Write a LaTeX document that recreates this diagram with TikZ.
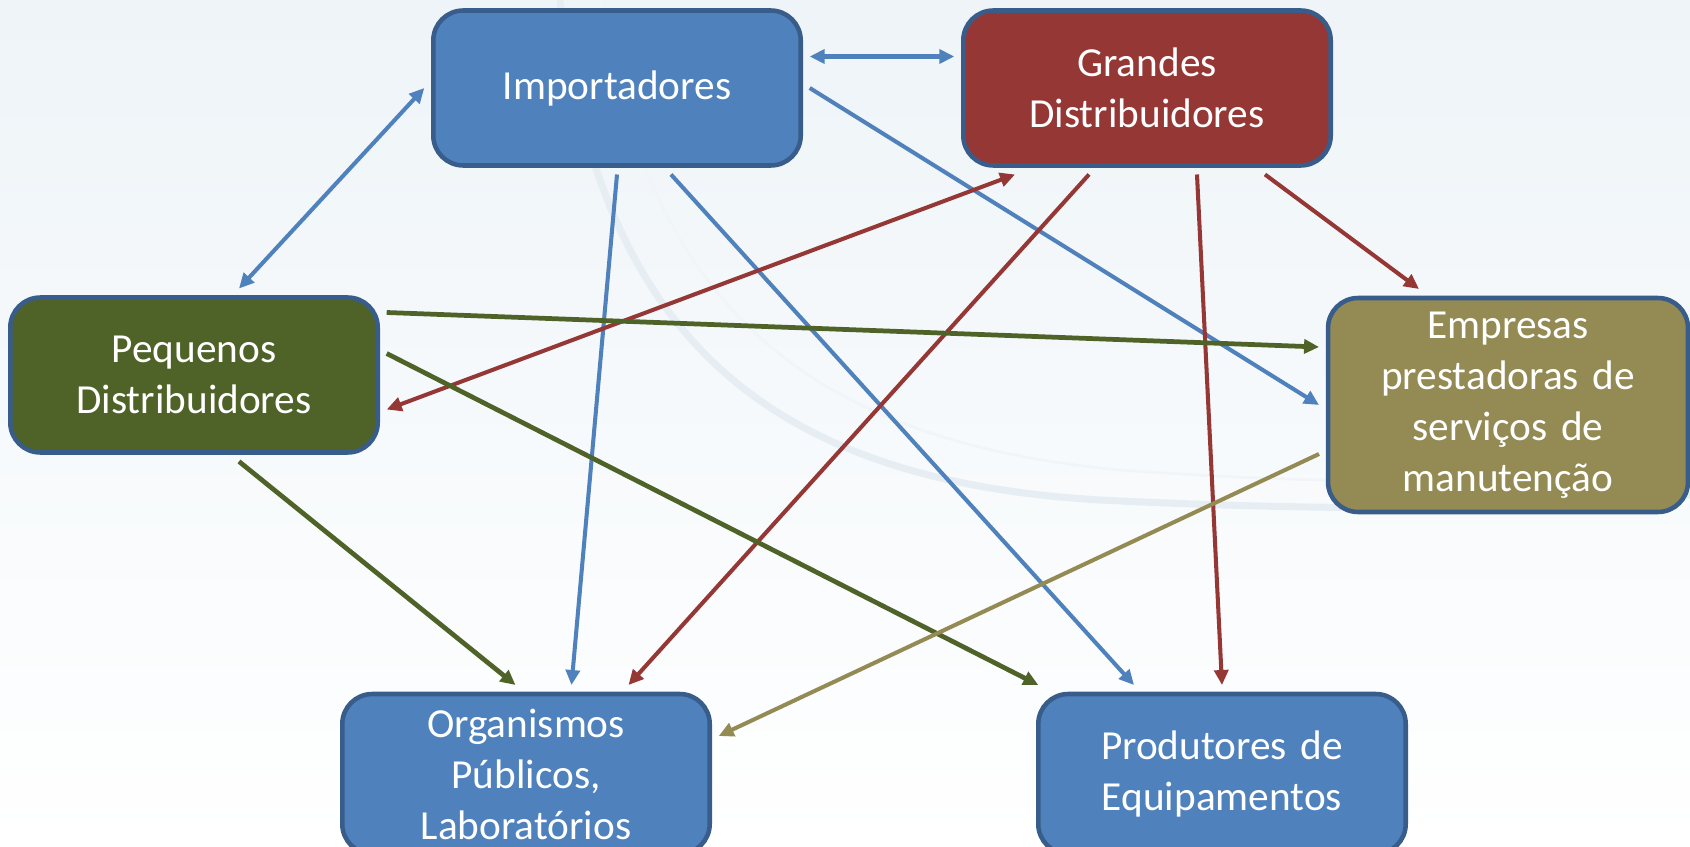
\documentclass[tikz,border=0pt]{standalone}
\usepackage{fontspec}
\setmainfont{Carlito}
\usetikzlibrary{arrows.meta,positioning}

\definecolor{boxblue}{HTML}{4F81BD}
\definecolor{boxred}{HTML}{953735}
\definecolor{boxgreen}{HTML}{4F6228}
\definecolor{boxolive}{HTML}{948A54}
\definecolor{edgeblue}{HTML}{385D8A}
\definecolor{bgtint}{HTML}{EEF4F8}
\definecolor{swoosh}{HTML}{E7EEF3}

\begin{document}
\begin{tikzpicture}[x=0.02cm,y=-0.02cm,
    ent/.style={draw=edgeblue,line width=2.6pt,rounded corners=0.6cm,
      minimum width=7.35cm,minimum height=3.1cm,text width=6.6cm,align=center,
      text=white,outer sep=0.18cm,font=\fontsize{23.5}{29}\selectfont},
    lnk/.style={line width=2.3pt,-{Triangle[length=0.3cm,width=0.28cm]}},
    dlnk/.style={lnk,{Triangle[length=0.3cm,width=0.28cm]}-{Triangle[length=0.3cm,width=0.28cm]}}]
        \useasboundingbox (0,0) rectangle (1690,847);
        \fill[top color=bgtint,bottom color=white] (0,0) rectangle (1690,847);
        \draw[swoosh,line width=4pt] (560,0) .. controls (600,330) and (760,480) .. (1100,500)
          .. controls (1400,515) and (1600,505) .. (1690,495);
        \draw[swoosh!60,line width=1.5pt] (600,0) .. controls (650,300) and (800,440) .. (1120,470)
          .. controls (1400,490) and (1600,480) .. (1690,470);

        % entidades
        \node[ent,fill=boxblue] (imp) at (617,88) {Importadores};
        \node[ent,fill=boxred] (gra) at (1147,88) {Grandes\\Distribuidores};
        \node[ent,fill=boxgreen] (peq) at (194,375) {Pequenos\\Distribuidores};
        \node[ent,fill=boxolive,minimum width=7.2cm,minimum height=4.28cm] (emp) at (1508,405)
          {Empresas\\prestadoras de\\serviços de\\manutenção};
        \node[ent,fill=boxblue,minimum height=3.2cm] (org) at (526,774)
          {Organismos\\Públicos,\\Laboratórios};
        \node[ent,fill=boxblue,minimum height=3.2cm] (pro) at (1222,774)
          {Produtores de\\Equipamentos};

        % importadores
        \draw[dlnk,color=boxblue] ([yshift=0.63cm]imp.east) -- ([yshift=0.63cm]gra.west);
        \draw[dlnk,color=boxblue] (imp.west) -- ([xshift=0.9cm]peq.north);
        \draw[lnk,color=boxblue] (imp.east) -- (emp.west);
        \draw[lnk,color=boxblue] (imp.south) -- ([xshift=0.91cm]org.north);
        \draw[lnk,color=boxblue] ([xshift=1.08cm]imp.south) -- ([xshift=-1.76cm]pro.north);

        % grandes distribuidores
        \draw[dlnk,color=boxred] ([xshift=-2.64cm]gra.south) -- ([yshift=-0.69cm]peq.east);
        \draw[lnk,color=boxred] ([xshift=-1.16cm]gra.south) -- ([xshift=2.05cm]org.north);
        \draw[lnk,color=boxred] ([xshift=1cm]gra.south) -- (pro.north);
        \draw[lnk,color=boxred] ([xshift=2.36cm]gra.south) -- ([xshift=-1.78cm]emp.north);

        % pequenos distribuidores
        \draw[lnk,color=boxgreen,line width=2.7pt] ([yshift=1.25cm]peq.east) -- ([yshift=1.16cm]emp.west);
        \draw[lnk,color=boxgreen,line width=2.7pt] ([yshift=0.43cm]peq.east) -- ([xshift=0.18cm]pro.north west);
        \draw[lnk,color=boxgreen,line width=2.7pt] ([xshift=0.9cm]peq.south) -- ([xshift=-0.21cm]org.north);

        % empresas de manutencao
        \draw[lnk,color=boxolive] ([yshift=-0.98cm]emp.west) -- ([yshift=0.76cm]org.east);
      \end{tikzpicture}
\end{document}
